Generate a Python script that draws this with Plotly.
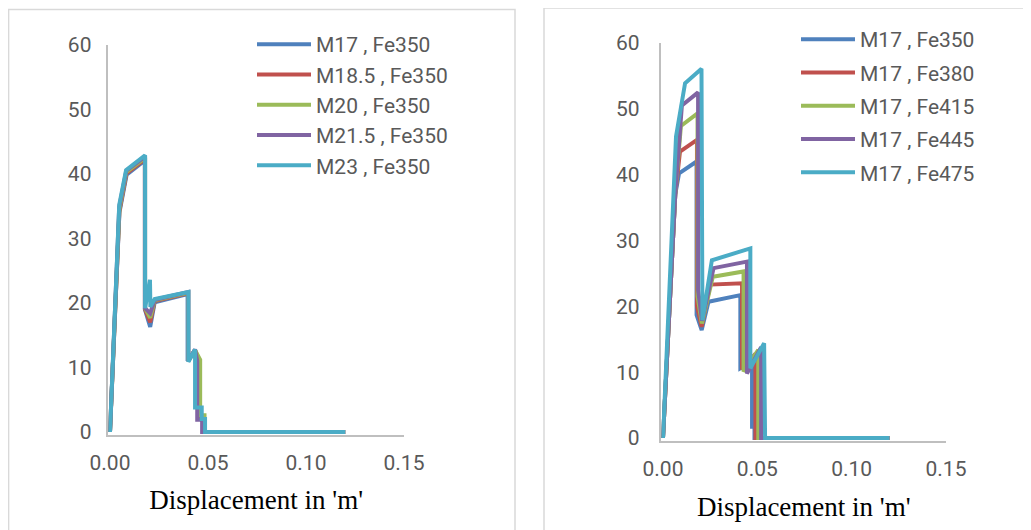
import plotly.graph_objects as go

# the page adds an 8px body margin, so the figure is drawn 8px right / down
OFF = 8
W, H = 1031 - OFF, 530 - OFF

# ---------------- data : left chart (grade of concrete varies) ----------------
left_names = ["M17 , Fe350", "M18.5 , Fe350", "M20 , Fe350", "M21.5 , Fe350", "M23 , Fe350"]
m17_x = [0, 0.0048, 0.0085, 0.0178, 0.0178, 0.0205, 0.0228, 0.0396, 0.0396, 0.0432, 0.0452, 0.0452, 0.0478, 0.0478, 0.120]
m17_y = [0, 34.0, 39.9, 42.1, 19.0, 16.3, 20.1, 21.4, 11.0, 12.6, 11.0, 2.2, 2.2, 0, 0]
m185_x = [0, 0.0048, 0.0084, 0.0178, 0.0178, 0.0205, 0.0228, 0.0398, 0.0398, 0.0433, 0.0456, 0.0456, 0.0480, 0.0480, 0.120]
m185_y = [0, 34.3, 40.1, 42.3, 19.1, 17.0, 20.3, 21.5, 11.0, 12.7, 11.1, 2.4, 2.4, 0, 0]
m20_x = [0, 0.0048, 0.0083, 0.0179, 0.0179, 0.0205, 0.0228, 0.0399, 0.0399, 0.0434, 0.0460, 0.0460, 0.0482, 0.0482, 0.120]
m20_y = [0, 34.6, 40.3, 42.5, 19.2, 17.7, 20.4, 21.6, 11.0, 12.7, 11.2, 2.6, 2.6, 0, 0]
m215_x = [0, 0.0047, 0.0083, 0.0179, 0.0179, 0.0205, 0.0228, 0.0400, 0.0400, 0.0434, 0.0445, 0.0445, 0.0470, 0.0470, 0.120]
m215_y = [0, 34.9, 40.5, 42.7, 19.2, 18.4, 20.5, 21.7, 11.0, 12.8, 11.0, 1.9, 1.9, 0, 0]
m23_x = [0, 0.0047, 0.0082, 0.0179, 0.0179, 0.0204, 0.0206, 0.0228, 0.0400, 0.0400, 0.0434, 0.0434, 0.0468, 0.0468, 0.0485, 0.0485, 0.120]
m23_y = [0, 35.2, 40.6, 42.9, 19.2, 23.6, 19.4, 20.6, 21.7, 10.9, 12.8, 3.8, 3.8, 2.0, 2.0, 0, 0]

# ---------------- data : right chart (grade of steel varies) ----------------
right_names = ["M17 , Fe350", "M17 , Fe380", "M17 , Fe415", "M17 , Fe445", "M17 , Fe475"]
fe350_x = [0, 0.0065, 0.0085, 0.0178, 0.0178, 0.0205, 0.0241, 0.0410, 0.0410, 0.0472, 0.0472, 0.0485, 0.0485, 0.120]
fe350_y = [0, 37.0, 40.2, 42.0, 18.7, 16.4, 20.7, 21.7, 10.6, 11.6, 1.7, 1.7, 0, 0]
fe380_x = [0, 0.0065, 0.0090, 0.0180, 0.0180, 0.0205, 0.0250, 0.0419, 0.0419, 0.0490, 0.0490, 0.120]
fe380_y = [0, 37.0, 43.5, 45.3, 20.0, 16.9, 23.3, 23.5, 10.4, 12.8, 0, 0]
fe415_x = [0, 0.0065, 0.0095, 0.0183, 0.0183, 0.0206, 0.0264, 0.0427, 0.0427, 0.0505, 0.0505, 0.120]
fe415_y = [0, 37.0, 47.4, 49.3, 21.5, 17.4, 24.5, 25.3, 10.1, 13.4, 0, 0]
fe445_x = [0, 0.0065, 0.0100, 0.0186, 0.0186, 0.0207, 0.0268, 0.0445, 0.0445, 0.0520, 0.0520, 0.120]
fe445_y = [0, 37.0, 50.5, 52.5, 22.5, 17.8, 25.8, 26.8, 9.8, 13.8, 0, 0]
fe475_x = [0, 0.0069, 0.0117, 0.0204, 0.0209, 0.0259, 0.0463, 0.0463, 0.0536, 0.0541, 0.120]
fe475_y = [0, 45.8, 53.9, 56.1, 17.9, 27.0, 28.8, 10.6, 14.4, 0, 0]

x_ticks = [0.00, 0.05, 0.10, 0.15]
x_tick_text = ["0.00", "0.05", "0.10", "0.15"]
y_ticks = [0, 10, 20, 30, 40, 50, 60]
x_title = "Displacement in 'm'"

colors = ["#4F81BD", "#C0504D", "#9BBB59", "#8064A2", "#4BACC6"]

left_series = [(m17_x, m17_y), (m185_x, m185_y), (m20_x, m20_y), (m215_x, m215_y), (m23_x, m23_y)]
right_series = [(fe350_x, fe350_y), (fe380_x, fe380_y), (fe415_x, fe415_y), (fe445_x, fe445_y), (fe475_x, fe475_y)]

fig = go.Figure()
for name, (xs, ys), c in zip(left_names, left_series, colors):
    fig.add_trace(go.Scatter(x=xs, y=ys, mode="lines", name=name, line=dict(color=c, width=4),
                             xaxis="x", yaxis="y", legend="legend"))
for i, (name, (xs, ys), c) in enumerate(zip(right_names, right_series, colors)):
    fig.add_trace(go.Scatter(x=xs, y=ys, mode="lines", name=name, line=dict(color=c, width=4),
                             xaxis="x2", yaxis="y2", legend="legend2", legendgroup="r%d" % i))

tick_font = dict(family="Roboto", size=21, color="#595959")
title_font = dict(family="Liberation Serif", size=27, color="#000000")


def fx(p):  # page pixel x -> paper fraction
    return (p - OFF) / W


def fy(p):  # page pixel y -> paper fraction
    return 1 - (p - OFF) / H


# page-pixel geometry of the two plot areas
lx_per = (404 - 110) / 0.15
ly_per = (432 - 45) / 60
rx_per = (946 - 663) / 0.15
ry_per = (438 - 43) / 60
xpad = -0.0008
ypad = -0.5


def xax(standoff_lbl, standoff_title, dom, anchor):
    return dict(range=[xpad, 0.15], tickvals=x_ticks, ticktext=x_tick_text, showgrid=False,
                zeroline=False, showline=True, linecolor="#BFBFBF", linewidth=1.5, ticks="",
                tickfont=tick_font, ticklabelstandoff=standoff_lbl, automargin=False,
                title=dict(text=x_title, font=title_font, standoff=standoff_title),
                domain=dom, anchor=anchor)


def yax(standoff_lbl, dom, anchor):
    return dict(range=[ypad, 60], tickvals=y_ticks, showgrid=False, zeroline=False, showline=True,
                linecolor="#BFBFBF", linewidth=1.5, ticks="", tickfont=tick_font,
                ticklabelstandoff=standoff_lbl, automargin=False, domain=dom, anchor=anchor)


fig.update_layout(
    width=W, height=H, margin=dict(l=0, r=0, t=0, b=0, autoexpand=False),
    paper_bgcolor="white", plot_bgcolor="white", showlegend=True,
    xaxis=xax(8, 16, [fx(110 + xpad * lx_per), fx(404)], "y"),
    yaxis=yax(11, [fy(432 - ypad * ly_per), fy(45)], "x"),
    xaxis2=xax(8, 17, [fx(663 + xpad * rx_per), fx(946)], "y2"),
    yaxis2=yax(16, [fy(438 - ypad * ry_per), fy(43)], "x2"),
    legend=dict(x=fx(252), y=fy(24), xanchor="left", yanchor="top", bgcolor="rgba(0,0,0,0)",
                font=dict(family="Roboto", size=21, color="#595959"), itemwidth=54),
    legend2=dict(x=fx(796), y=fy(19), xanchor="left", yanchor="top", bgcolor="rgba(0,0,0,0)",
                 font=dict(family="Roboto", size=21, color="#595959"), itemwidth=54,
                 tracegroupgap=3, traceorder="grouped"),
    shapes=[
        dict(type="rect", xref="paper", yref="paper", x0=fx(8.6), x1=fx(515), y0=-0.1, y1=fy(9.5),
             line=dict(color="#D9D9D9", width=1.5), layer="below"),
        dict(type="rect", xref="paper", yref="paper", x0=fx(544), x1=fx(1029), y0=-0.1, y1=fy(8),
             line=dict(color="#D9D9D9", width=1.5), layer="below"),
    ],
)

fig.write_html("out.html")
